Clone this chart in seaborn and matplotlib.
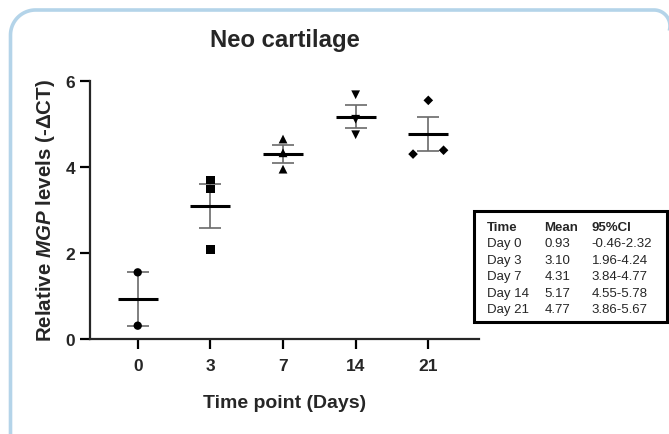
import numpy as np
import pandas as pd
import matplotlib
matplotlib.use("Agg")
import matplotlib.pyplot as plt
import matplotlib.patches as mpatches
from matplotlib.path import Path
from matplotlib.transforms import IdentityTransform
import seaborn as sns

# ---------------- data ----------------
days = ["0", "3", "7", "14", "21"]
day0_vals = [1.55, 0.31]
day3_vals = [3.69, 3.49, 2.08]
day7_vals = [4.65, 4.33, 3.95]
day14_vals = [5.68, 5.11, 4.75]
day21_vals = [5.55, 4.30, 4.39]
means = [0.93, 3.10, 4.31, 5.17, 4.77]
errs = [0.62, 0.51, 0.21, 0.27, 0.40]

table_header = ["Time", "Mean", "95%CI"]
table_time = ["Day 0", "Day 3", "Day 7", "Day 14", "Day 21"]
table_mean = ["0.93", "3.10", "4.31", "5.17", "4.77"]
table_ci = ["-0.46-2.32", "1.96-4.24", "3.84-4.77", "4.55-5.78", "3.86-5.67"]

# horizontal scatter offsets (style only)
offsets = [[0, 0], [0, 0, 0], [0, 0, 0], [0, 0, 0], [0, -0.21, 0.21]]
markers = {"0": "o", "3": "s", "7": "^", "14": "v", "21": "D"}
msizes = {"0": 36, "3": 36, "7": 40, "14": 40, "21": 24}

# ---------------- style ----------------
sns.set_style("ticks")
plt.rcParams["font.family"] = ["Liberation Sans", "DejaVu Sans"]
plt.rcParams["mathtext.fontset"] = "custom"
plt.rcParams["mathtext.it"] = "Liberation Sans:italic:bold"
plt.rcParams["mathtext.rm"] = "Liberation Sans:bold"

W, H = 669, 435
fig = plt.figure(figsize=(W / 100, H / 100), dpi=100)
fig.patch.set_facecolor("white")

ax = fig.add_axes([90 / W, 1 - 340 / H, (479 - 90) / W, (340 - 82) / H])

all_vals = [day0_vals, day3_vals, day7_vals, day14_vals, day21_vals]
rows = []
for i, (d, vs) in enumerate(zip(days, all_vals)):
    for v, o in zip(vs, offsets[i]):
        rows.append({"day": d, "value": v, "pos": i + o})
df = pd.DataFrame(rows)

x = np.arange(len(days))
ax.errorbar(x, means, yerr=errs, fmt="none", ecolor="#6a6a6a",
            elinewidth=1.2, capsize=8.1, capthick=1.2, zorder=2)
ax.hlines(means, x - 0.275, x + 0.275, color="black", lw=2.2, zorder=3)
sns.scatterplot(data=df, x="pos", y="value", style="day", markers=markers,
                size="day", sizes=msizes,
                color="black", linewidth=0, legend=False, ax=ax, zorder=4)

ax.set_xlim(-0.657, 4.698)
ax.set_ylim(0, 6)
ax.set_xticks(x, days)
ax.set_yticks([0, 2, 4, 6])
sns.despine(ax=ax)
for s in ["left", "bottom"]:
    ax.spines[s].set_linewidth(1.6)
ax.tick_params(axis="both", width=1.6, length=7.5, labelsize=12.5, color="black")
ax.tick_params(axis="x", pad=6)
ax.tick_params(axis="y", pad=3)
for lab in ax.get_xticklabels() + ax.get_yticklabels():
    lab.set_fontweight("bold")

ax.set_xlabel("Time point (Days)", fontsize=14, fontweight="bold")
ax.xaxis.set_label_coords(0.5, -0.215)
ax.set_ylabel(r"Relative $\it{MGP}$ levels (-ΔCT)", fontsize=14.8, fontweight="bold")
ax.yaxis.set_label_coords(-0.085, 0.5)

fig.text(284.5 / W, 1 - 47.3 / H, "Neo cartilage", ha="center", va="baseline",
         fontsize=17.2, fontweight="bold")

# ---------------- table ----------------
tbl = mpatches.Rectangle((474.3, H - 323.3), 666.7 - 474.3, 323.3 - 211.7,
                         transform=IdentityTransform(), fill=False,
                         ec="black", lw=2.2)
fig.add_artist(tbl)
col_x = [486.7, 544.3, 591.7]
base0 = 231
step = 16.4
for cx, h in zip(col_x, table_header):
    fig.text(cx / W, 1 - base0 / H, h, ha="left", va="baseline", fontsize=9.5,
             fontweight="bold")
for r in range(len(table_time)):
    yb = 1 - (base0 + step * (r + 1)) / H
    for cx, val in zip(col_x, [table_time[r], table_mean[r], table_ci[r]]):
        fig.text(cx / W, yb, val, ha="left", va="baseline", fontsize=9.5)

# ---------------- rounded frame (open on right/bottom, as in the crop) ----------------
left_x, top_y = 10.5, 11.0
r1, r2 = 25.0, 16.0
curve_x = 654.0
pts = [(left_x, 480.0), (left_x, top_y + r1)]
for t in np.linspace(np.pi, np.pi / 2, 30):
    pts.append((left_x + r1 + r1 * np.cos(t), top_y + r1 - r1 * np.sin(t)))
pts.append((curve_x, top_y))
for t in np.linspace(np.pi / 2, -0.3, 30):
    pts.append((curve_x + r2 * np.cos(t), top_y + r2 - r2 * np.sin(t)))
pts = [(px, H - py) for px, py in pts]
frame = mpatches.PathPatch(Path(pts), transform=IdentityTransform(), fill=False,
                           ec="#b4d4e9", lw=2.6, capstyle="butt")
fig.add_artist(frame)

fig.savefig("out.png", dpi=100)
